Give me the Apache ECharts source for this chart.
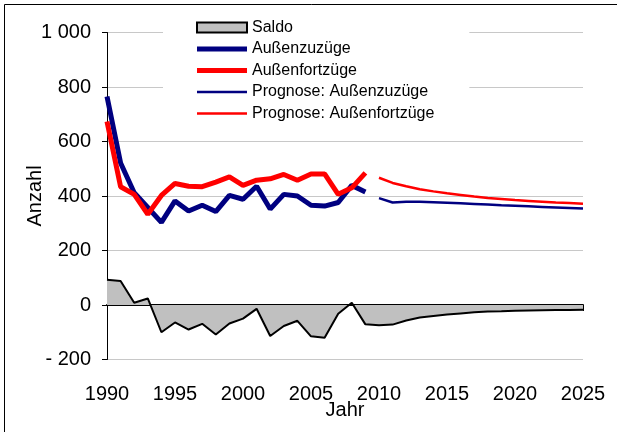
<!DOCTYPE html>
<html>
<head>
<meta charset="utf-8">
<script src="https://cdn.jsdelivr.net/npm/echarts@6/dist/echarts.min.js"></script>
<style>
html,body{margin:0;padding:0;background:#fff;}
#chart{width:617px;height:432px;}
</style>
</head>
<body>
<div id="chart"></div>
<script>
// Data
const histYears = [1990,1991,1992,1993,1994,1995,1996,1997,1998,1999,2000,2001,2002,2003,2004,2005,2006,2007,2008,2009];
const zuzuege   = [765,521,412,358,303,382,345,366,343,402,388,436,352,406,400,366,363,376,439,415];
const fortzuege = [673,434,406,333,402,446,436,434,451,470,439,458,463,479,458,481,481,406,430,485];

const progYears = [2010,2011,2012,2013,2014,2015,2016,2017,2018,2019,2020,2021,2022,2023,2024,2025];
const progZuzuege   = [392,376,379,379,377,375,373,371,369,366,364,362,360,358,356,354];
const progFortzuege = [467,448,436,425,417,410,404,398,393,389,385,382,379,376,374,372];

const saldoYears = histYears.concat(progYears);
const saldo = [93,88,8,24,-100,-64,-90,-69,-108,-68,-50,-14,-114,-77,-58,-115,-120,-32,8,-71,
               -74,-72,-57,-46,-40,-35,-31,-27,-24,-23,-21,-20,-19,-18,-18,-17];

const names = ['Saldo','Außenzuzüge','Außenfortzüge','Prognose: Außenzuzüge','Prognose: Außenfortzüge'];

function pairs(xs, ys){ return xs.map((x,i)=>[x, ys[i]]); }
function fmtY(v){
  const s = String(Math.abs(v)).replace(/\B(?=(\d{3})+(?!\d))/g,' ');
  return v < 0 ? '- ' + s : s;
}

const FONT = 'Liberation Sans';
const thickIcon = 'path://M0,0H50V5H0Z';
const thinIcon = 'path://M0,0H50V2.5H0Z';
const chart = echarts.init(document.getElementById('chart'));
chart.setOption({
  animation: false,
  backgroundColor: '#fff',
  textStyle: {fontFamily: FONT, color: '#000'},
  graphic: [{
    type: 'rect', z: 100, silent: true,
    shape: {x: 4.5, y: 4.5, width: 700, height: 600},
    style: {fill: 'none', stroke: '#000', lineWidth: 1}
  }],
  grid: {left: 107, right: 34, top: 32.5, bottom: 72.5, containLabel: false, outerBoundsMode: 'none'},
  legend: {
    orient: 'vertical',
    left: 163, top: 9,
    padding: [10, 35, 6, 33],
    backgroundColor: '#fff',
    itemWidth: 50, itemHeight: 10, itemGap: 4.5,
    textStyle: {fontFamily: FONT, fontSize: 16, color: '#000', lineHeight: 17},
    data: [
      {name: names[0], icon: 'rect', itemStyle: {color: '#c0c0c0', borderColor: '#000', borderWidth: 2}},
      {name: names[1], icon: thickIcon, itemStyle: {color: '#000080', borderWidth: 0}},
      {name: names[2], icon: thickIcon, itemStyle: {color: '#ff0000', borderWidth: 0}},
      {name: names[3], icon: thinIcon, itemStyle: {color: '#000080', borderWidth: 0}},
      {name: names[4], icon: thinIcon, itemStyle: {color: '#ff0000', borderWidth: 0}}
    ]
  },
  xAxis: [{
    type: 'value', position: 'top', min: 1990, max: 2025, interval: 5,
    axisLine: {show: true, onZero: true, lineStyle: {color: '#000', width: 2}},
    axisTick: {show: true, inside: true, length: 6, lineStyle: {color: '#000', width: 1}},
    axisLabel: {show: false},
    splitLine: {show: false}
  }, {
    type: 'value', position: 'bottom', min: 1990, max: 2025, interval: 5,
    axisLine: {show: false, onZero: false},
    axisTick: {show: false},
    axisLabel: {show: true, margin: 25, fontSize: 20, fontFamily: FONT, color: '#000',
      formatter: v => String(v)},
    splitLine: {show: false},
    name: 'Jahr', nameLocation: 'middle', nameGap: 41, nameMoveOverlap: false,
    nameTextStyle: {fontSize: 20, fontFamily: FONT, color: '#000'}
  }],
  yAxis: {
    type: 'value', min: -200, max: 1000, interval: 200,
    axisLine: {show: true, onZero: false, lineStyle: {color: '#000', width: 1}},
    axisTick: {show: true, length: 5, lineStyle: {color: '#000'}},
    axisLabel: {margin: 16, fontSize: 20, fontFamily: FONT, color: '#000', formatter: fmtY},
    splitLine: {show: true, lineStyle: {color: '#c8c8c8', width: 1}},
    name: 'Anzahl', nameLocation: 'middle', nameGap: 62, nameMoveOverlap: false,
    nameTextStyle: {fontSize: 20, fontFamily: FONT, color: '#000'}
  },
  series: [{
    name: names[0], type: 'line', xAxisIndex: 1, data: pairs(saldoYears, saldo),
    symbol: 'none', z: 1,
    lineStyle: {color: '#000', width: 2},
    itemStyle: {color: '#c0c0c0', borderColor: '#000'},
    areaStyle: {color: '#c0c0c0', opacity: 1, origin: 0}
  }, {
    name: names[1], type: 'line', xAxisIndex: 1, data: pairs(histYears, zuzuege),
    symbol: 'none', z: 3,
    lineStyle: {color: '#000080', width: 5}, itemStyle: {color: '#000080'}
  }, {
    name: names[2], type: 'line', xAxisIndex: 1, data: pairs(histYears, fortzuege),
    symbol: 'none', z: 4,
    lineStyle: {color: '#ff0000', width: 5}, itemStyle: {color: '#ff0000'}
  }, {
    name: names[3], type: 'line', xAxisIndex: 1, data: pairs(progYears, progZuzuege),
    symbol: 'none', z: 3,
    lineStyle: {color: '#000080', width: 2.5}, itemStyle: {color: '#000080'}
  }, {
    name: names[4], type: 'line', xAxisIndex: 1, data: pairs(progYears, progFortzuege),
    symbol: 'none', z: 3,
    lineStyle: {color: '#ff0000', width: 2.5}, itemStyle: {color: '#ff0000'}
  }]
});
</script>
</body>
</html>
